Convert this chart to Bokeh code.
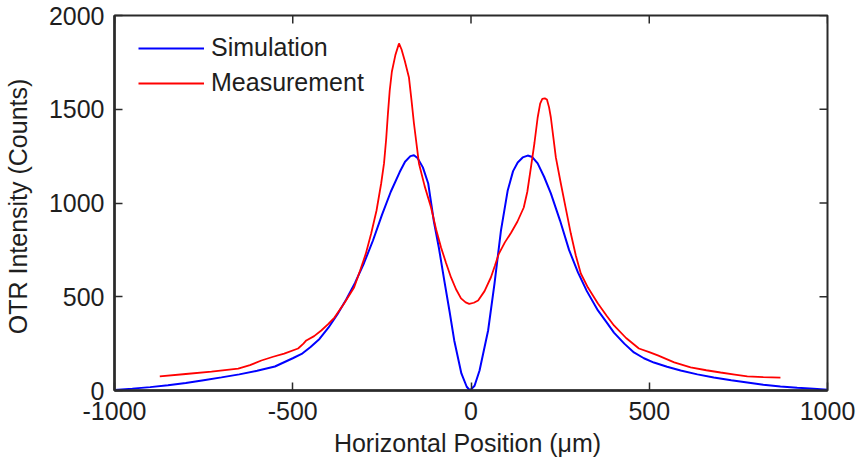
import math
from bokeh.plotting import figure
from bokeh.models import Range1d, FixedTicker, Legend, LegendItem
from bokeh.embed import file_html
from bokeh.resources import INLINE

# ---- data ----
sim_x = [-1000, -950, -900, -850, -800, -750, -700, -650, -600, -550, -500, -475,
         -450, -425, -400, -375, -350, -325, -300, -275, -250, -225, -200, -185,
         -170, -160, -150, -135, -120, -104, -90, -75, -60, -47, -27, -12, -3,
         10, 24, 48, 66, 84, 103, 118, 131, 145, 159, 172, 187, 205, 224, 250,
         275, 300, 325, 356, 380, 401, 430, 457, 485, 513, 550, 588, 635, 681,
         730, 775, 820, 868, 915, 961, 1000]
sim_y = [3, 10, 18, 28, 40, 55, 70, 86, 105, 128, 172, 195,
         232, 275, 335, 405, 485, 575, 680, 800, 935, 1060, 1165, 1220,
         1250, 1255, 1240, 1190, 1104, 900, 760, 587, 420, 267, 91, 20, 0,
         25, 107, 320, 571, 853, 1067, 1170, 1216, 1243, 1253, 1245, 1211, 1140, 1051, 905,
         750, 630, 530, 427, 365, 309, 250, 203, 172, 149, 127, 107, 86, 69,
         55, 43, 31, 21, 15, 10, 4]

meas_x = [-873, -800, -728, -653, -620, -588, -555, -524, -485, -470, -462, -440,
          -420, -400, -383, -356, -328, -311, -295, -280, -265, -252, -244, -238,
          -233, -228, -222, -212, -202, -195, -186, -174, -167, -160, -146, -130,
          -112, -98, -84, -70, -56, -42, -28, -15, -5, 8, 20, 38, 56, 67, 78, 95,
          112, 130, 148, 158, 168, 178, 187, 194, 200, 207, 213, 219, 224, 231,
          238, 252, 266, 280, 294, 308, 328, 356, 380, 401, 435, 471, 500, 524,
          570, 616, 660, 700, 740, 775, 820, 868]
meas_y = [75, 88, 101, 117, 135, 160, 180, 197, 224, 250, 267, 290,
          320, 355, 389, 464, 549, 640, 730, 837, 960, 1104, 1211, 1340,
          1477, 1600, 1700, 1790, 1851, 1820, 1760, 1669, 1550, 1424, 1211, 1090,
          976, 860, 763, 680, 603, 540, 491, 470, 462, 468, 480, 530, 604, 665, 729, 790,
          840, 900, 976, 1060, 1189, 1320, 1456, 1530, 1555, 1558, 1552, 1510, 1456, 1350,
          1243, 1104, 970, 837, 720, 624, 549, 464, 400, 347, 280, 224, 205, 187,
          150, 123, 108, 96, 85, 75, 71, 69]

x_ticks = [-1000, -500, 0, 500, 1000]
x_tick_labels = ["-1000", "-500", "0", "500", "1000"]
y_ticks = [0, 500, 1000, 1500, 2000]

FONT = "Liberation Sans"
TXT = "#1e1e1e"
AX = "#2a2a2a"

p = figure(width=858, height=459, output_backend="svg", toolbar_location=None,
           x_range=Range1d(-1000, 1000), y_range=Range1d(0, 2000),
           min_border_left=113, min_border_right=31, min_border_top=15, min_border_bottom=69,
           background_fill_color="white", border_fill_color="white")
p.grid.visible = False
p.outline_line_color = AX
p.outline_line_width = 2

xa = p.xaxis[0]
ya = p.yaxis[0]
xa.ticker = FixedTicker(ticks=x_ticks)
ya.ticker = FixedTicker(ticks=y_ticks)
xa.major_label_overrides = {float(t): s for t, s in zip(x_ticks, x_tick_labels)}
for ax in (xa, ya):
    ax.major_tick_in = 8
    ax.major_tick_out = 0
    ax.minor_tick_line_color = None
    ax.major_tick_line_color = AX
    ax.major_tick_line_width = 1.5
    ax.axis_line_color = AX
    ax.axis_line_width = 2.5
    ax.major_label_text_font = FONT
    ax.major_label_text_color = TXT
    ax.major_label_text_font_size = "25px"
    ax.axis_label_text_font = FONT
    ax.axis_label_text_color = TXT
    ax.axis_label_text_font_size = "25px"
    ax.axis_label_text_font_style = "normal"
xa.axis_label = "Horizontal Position  (\u03bcm)"
ya.axis_label = "OTR Intensity  (Counts)"
xa.major_label_standoff = 11
ya.major_label_standoff = 10
xa.axis_label_standoff = 6
ya.axis_label_standoff = 14

# mirrored inner ticks on the top and right edges (clipped to the frame)
p.scatter(x_ticks, [2000] * len(x_ticks), marker="dash", angle=math.pi / 2, size=16,
          line_color=AX, line_width=1.5)
p.scatter([1000] * len(y_ticks), y_ticks, marker="dash", size=16,
          line_color=AX, line_width=1.5)

r_sim = p.line(sim_x, sim_y, line_color="#0000ff", line_width=2)
r_meas = p.line(meas_x, meas_y, line_color="#ff0000", line_width=1.8)

legend = Legend(items=[LegendItem(label="Simulation", renderers=[r_sim]),
                       LegendItem(label="Measurement", renderers=[r_meas])],
                location=(24, 293))
legend.margin = 0
legend.padding = 0
legend.glyph_width = 66
legend.glyph_height = 16
legend.label_height = 16
legend.spacing = 6
legend.label_standoff = 7
legend.label_text_font = FONT
legend.label_text_font_size = "25px"
legend.label_text_color = TXT
legend.background_fill_alpha = 0
legend.border_line_color = None
p.add_layout(legend, "center")

open("out.html", "w").write(file_html(p, INLINE))
